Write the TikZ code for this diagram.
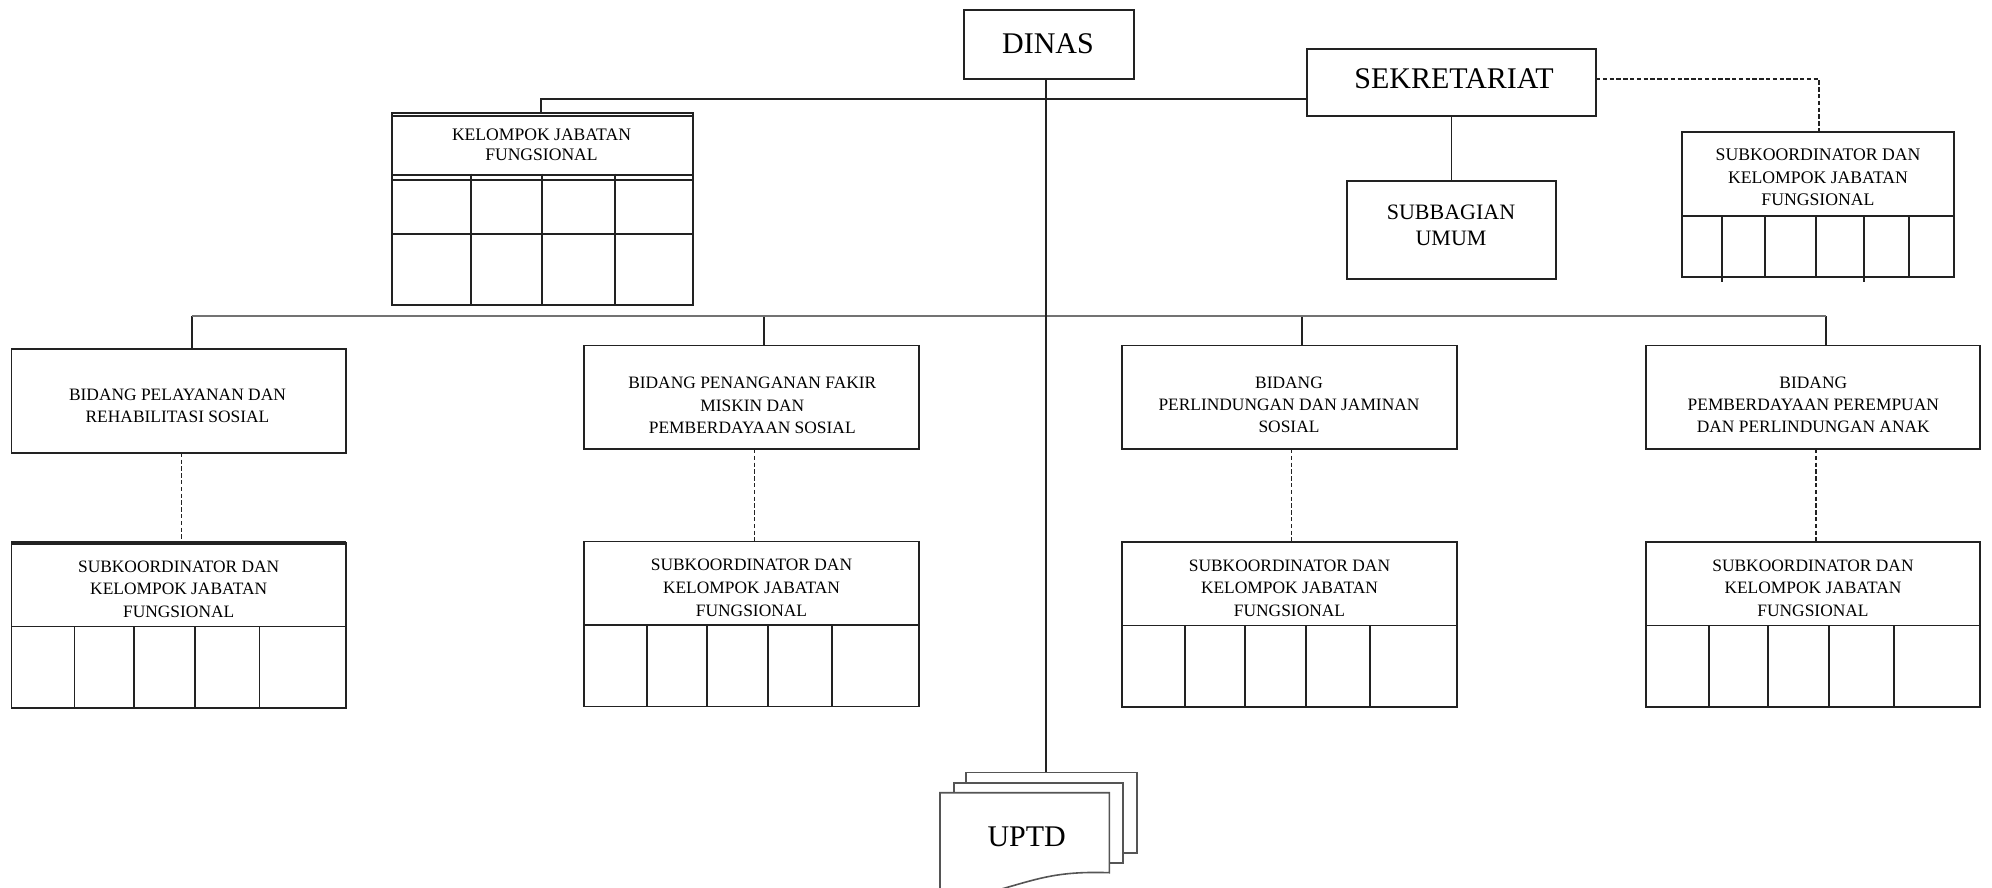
\documentclass[tikz,border=0pt]{standalone}
\usepackage{fontspec}
\setmainfont{Liberation Serif}
\usetikzlibrary{calc}
\definecolor{linec}{HTML}{222222}
\definecolor{sheetc}{HTML}{555555}
\newcommand\subkbox[3]{%
  \node[box, minimum width=167.25pt, minimum height=82.5pt] (#1) at (#2,#3) {};
  \draw[conn] ($(#1.north west)+(0,83.5)$) -- ($(#1.north east)+(0,83.5)$);
  \foreach \cx in {63,122.5,183.5,248}
    \draw[conn] ($(#1.north west)+(\cx,83.5)$) -- ($(#1.south west)+(\cx,0)$);
  \node[smalltxt] (#1t) at ($(#1.north)+(0,46.3)$) {SUBKOORDINATOR DAN\\KELOMPOK JABATAN\\FUNGSIONAL};
}
\begin{document}
\begin{tikzpicture}[x=0.5pt,y=-0.5pt,
  box/.style={draw=linec, line width=0.9pt, inner sep=0pt, outer sep=0pt, fill=white},
  conn/.style={draw=linec, line width=0.9pt},
  dconn/.style={draw=linec, line width=0.75pt, dash pattern=on 2.2pt off 1.2pt},
  bus/.style={draw=black!55, line width=1.3pt},
  smalltxt/.style={align=center, inner sep=0pt, text=black, font=\fontsize{8.7}{11.4}\selectfont},
  bigtxt/.style={align=center, inner sep=0pt, text=black, font=\fontsize{15}{18}\selectfont},
  sheet/.style={draw=sheetc, line width=0.8pt, fill=white}]
\useasboundingbox (0,0) rectangle (1992,888);
\clip (0,0) rectangle (1992,888);

% DINAS
\node[box, minimum width=85pt, minimum height=34.5pt] (dinas) at (1049,44.5) {};
\node[bigtxt] (dinast) at (1048,43.5) {DINAS};

% SEKRETARIAT
\node[box, minimum width=144.5pt, minimum height=33.5pt] (sek) at (1451.5,82.5) {};
\node[bigtxt] (sekt) at (1454,78.5) {SEKRETARIAT};

% SUBBAGIAN UMUM
\node[box, minimum width=104.5pt, minimum height=49pt] (sub) at (1451.5,230) {};
\node[smalltxt, font=\fontsize{11}{13}\selectfont] (subt) at (1451,225) {SUBBAGIAN\\UMUM};

% top right subkoordinator
\node[box, minimum width=136pt, minimum height=72.5pt] (tr) at (1818,204.5) {};
\draw[conn] ($(tr.north west)+(0,84)$) -- ($(tr.north east)+(0,84)$);
\foreach \cx/\ext in {40/5,83/0,134/0,182/5,227/0}
  \draw[conn] ($(tr.north west)+(\cx,84)$) -- ($(tr.south west)+(\cx,\ext)$);
\node[smalltxt, font=\fontsize{8.85}{11.25}\selectfont] (trt) at ($(tr.north)+(0,45.7)$) {SUBKOORDINATOR DAN\\KELOMPOK JABATAN\\FUNGSIONAL};

% KELOMPOK JABATAN FUNGSIONAL (top left)
\node[box, minimum width=150.5pt, minimum height=96.15pt] (kel) at (542.5,208.85) {};
\foreach \ry in {3.3,62.3,67.3,121.3}
  \draw[conn] ($(kel.north west)+(0,\ry)$) -- ($(kel.north east)+(0,\ry)$);
\foreach \cx in {79,150,223}
  \draw[conn] ($(kel.north west)+(\cx,61)$) -- ($(kel.south west)+(\cx,0)$);
\node[smalltxt, font=\fontsize{8.8}{10}\selectfont] (kelt) at (541.5,145) {KELOMPOK JABATAN\\FUNGSIONAL};

% Bidang boxes
\node[box, minimum width=167.25pt, minimum height=51.75pt] (b1) at (178.7,401) {};
\node[smalltxt, font=\fontsize{8.7}{10.9}\selectfont] (b1t) at (177.5,405.8) {BIDANG PELAYANAN DAN\\REHABILITASI SOSIAL};
\node[box, minimum width=167.25pt, minimum height=51.75pt] (b2) at (751.5,397.3) {};
\node[smalltxt, font=\fontsize{8.7}{11.2}\selectfont] (b2t) at (752.3,405.7) {BIDANG PENANGANAN FAKIR\\MISKIN DAN\\PEMBERDAYAAN SOSIAL};
\node[box, minimum width=167.25pt, minimum height=51.75pt] (b3) at (1289.5,397.3) {};
\node[smalltxt, font=\fontsize{8.7}{10.9}\selectfont] (b3t) at (1289,405) {BIDANG\\PERLINDUNGAN DAN JAMINAN\\SOSIAL};
\node[box, minimum width=167.25pt, minimum height=51.75pt] (b4) at (1813,397.3) {};
\node[smalltxt, font=\fontsize{8.7}{10.9}\selectfont] (b4t) at (1813.3,405) {BIDANG\\PEMBERDAYAAN PEREMPUAN\\DAN PERLINDUNGAN ANAK};

% Subkoordinator boxes
\subkbox{s1}{178.7}{625.5}
\draw[draw=linec, line width=1.6pt] (s1.north west) -- (s1.north east);
\subkbox{s2}{751.5}{623.9}
\subkbox{s3}{1289.5}{624.5}
\subkbox{s4}{1813}{624.5}

% UPTD
\filldraw[sheet] (966,772.3) rectangle (1136.7,852.7);
\filldraw[sheet] (954,782.7) rectangle (1122.7,862.7);
\filldraw[sheet] (940,905) -- (940,792.7) -- (1109.3,792.7) -- (1109.3,872.7)
  .. controls (1060,871) and (1040,878) .. (1005,888)
  .. controls (980,895) and (960,900) .. (940,900) -- cycle;
\node[bigtxt] (uptd) at (1026.7,836.7) {UPTD};
\coordinate (uptdtop) at (1046,772.3);

% connectors
\draw[conn] (dinas.south -| uptdtop) -- (uptdtop);
\coordinate (kelj) at (540.7,99);
\draw[conn] (kel.north -| kelj) -- (kelj) -- (kelj -| sek.west);
\draw[conn] (sek.south) -- (sub.north);
\coordinate (sekd) at (1819,79);
\draw[dconn] (sekd -| sek.east) -- (sekd) -- (sekd |- tr.north);

\coordinate (busL) at (191.7,316);
\coordinate (busB) at (764.3,316);
\coordinate (busC) at (1302.3,316);
\coordinate (busR) at (1826,316);
\draw[conn] (busL) -- (busL |- b1.north);
\draw[conn] (busB) -- (busB |- b2.north);
\draw[conn] (busC) -- (busC |- b3.north);
\draw[conn] (busR) -- (busR |- b4.north);
\draw[bus] (busL) -- (busR);
\draw[conn] (1046,310) -- (1046,322);

\draw[dconn] ($(b1.south)+(3,0)$) -- ($(s1.north)+(3,0)$);
\draw[dconn] ($(b2.south)+(3,0)$) -- ($(s2.north)+(3,0)$);
\draw[dconn] ($(b3.south)+(2,0)$) -- ($(s3.north)+(2,0)$);
\draw[dconn] ($(b4.south)+(3,0)$) -- ($(s4.north)+(3,0)$);
\end{tikzpicture}
\end{document}
